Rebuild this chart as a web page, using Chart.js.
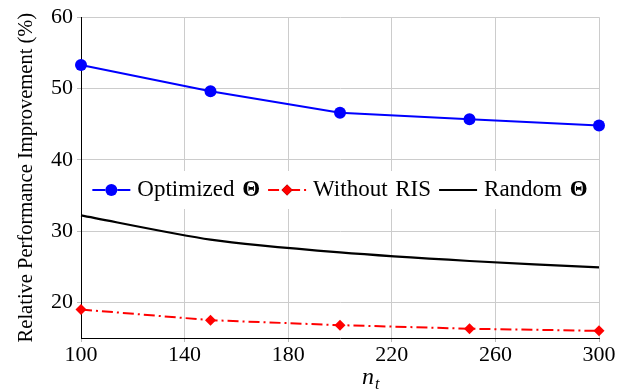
<!DOCTYPE html>
<html>
<head>
<meta charset="utf-8">
<script src="https://cdn.jsdelivr.net/npm/chart.js@4.4.1/dist/chart.umd.min.js"></script>
<style>
  html, body { margin: 0; padding: 0; background: #fff; }
  #wrap { width: 629px; height: 392px; }
</style>
</head>
<body>
<div id="wrap"><canvas id="c" width="629" height="392"></canvas></div>
<script>
// n_t values and series
const ntValues = [100, 150, 200, 250, 300];
const optimized = [53.3, 49.6, 46.6, 45.7, 44.8];
const withoutRis = [19.0, 17.5, 16.8, 16.3, 16.0];
const randomTheta = [32.2, 28.8, 27.0, 25.8, 24.9];

const seriesNames = ["Optimized Θ", "Without RIS", "Random Θ"];
const xTicks = [100, 140, 180, 220, 260, 300];
const yTicks = [20, 30, 40, 50, 60];

const serif = "'Liberation Serif', 'DejaVu Serif', serif";

const toXY = (vals) => vals.map((v, i) => ({ x: ntValues[i], y: v }));

// legend drawn inside the plot, on a white strip, like the pgfplots figure
const innerLegend = {
  id: "innerLegend",
  afterDatasetsDraw(chart) {
    const { ctx, chartArea } = chart;
    const cy = 190;
    ctx.save();
    ctx.fillStyle = "#fff";
    ctx.fillRect(chartArea.left + 1, 171, chartArea.right - chartArea.left - 2, 38);

    const sample = 38, gapText = 7, gapItem = 8;
    const normal = "23px " + serif, bold = "bold 23px " + serif;
    ctx.wordSpacing = "2px";
    const parts = seriesNames.map((name) => {
      const segs = name.split("Θ");
      const out = [];
      segs.forEach((s, i) => {
        if (s) out.push({ t: s, f: normal });
        if (i < segs.length - 1) out.push({ t: "Θ", f: bold });
      });
      return out;
    });
    const widths = parts.map((p) =>
      p.reduce((w, s) => { ctx.font = s.f; return w + ctx.measureText(s.t).width; }, 0));
    let total = 0;
    widths.forEach((w, i) => { total += sample + gapText + w + (i ? gapItem : 0); });
    let x = (chartArea.left + chartArea.right) / 2 - total / 2;

    chart.data.datasets.forEach((ds, i) => {
      ctx.strokeStyle = ds.borderColor;
      ctx.lineWidth = ds.borderWidth;
      ctx.setLineDash(ds.borderDash || []);
      ctx.beginPath();
      ctx.moveTo(x, cy);
      ctx.lineTo(x + sample, cy);
      ctx.stroke();
      ctx.setLineDash([]);
      if (ds.pointRadius > 0) {
        Chart.helpers.drawPoint(ctx, {
          pointStyle: ds.pointStyle, radius: ds.pointRadius, rotation: 0, borderWidth: 0
        }, x + sample / 2, cy);
        ctx.fillStyle = ds.backgroundColor;
        ctx.fill();
      }
      x += sample + gapText;
      ctx.fillStyle = "#000";
      ctx.textBaseline = "middle";
      parts[i].forEach((s) => {
        ctx.font = s.f;
        ctx.fillText(s.t, x, cy);
        x += ctx.measureText(s.t).width;
      });
      x += gapItem;
    });
    ctx.wordSpacing = "0px";

    // x axis title n_t
    ctx.fillStyle = "#000";
    ctx.textBaseline = "alphabetic";
    ctx.font = "italic 24px " + serif;
    const nx = (chartArea.left + chartArea.right) / 2 + 22;
    ctx.fillText("n", nx, 384);
    const nw = ctx.measureText("n").width;
    ctx.font = "italic 16px " + serif;
    ctx.fillText("t", nx + nw + 1, 389);
    ctx.restore();
  }
};

new Chart(document.getElementById("c"), {
  type: "line",
  data: {
    datasets: [
      {
        label: seriesNames[0],
        data: toXY(optimized),
        borderColor: "#0000ff",
        backgroundColor: "#0000ff",
        borderWidth: 2,
        pointStyle: "circle",
        pointRadius: 6,
        pointBorderWidth: 0,
        tension: 0,
        clip: false
      },
      {
        label: seriesNames[1],
        data: toXY(withoutRis),
        borderColor: "#ff0000",
        backgroundColor: "#ff0000",
        borderWidth: 2,
        borderDash: [11, 4, 2, 4],
        pointStyle: "rectRot",
        pointRadius: 5.5,
        pointBorderWidth: 0,
        tension: 0,
        clip: false
      },
      {
        label: seriesNames[2],
        data: toXY(randomTheta),
        borderColor: "#000000",
        backgroundColor: "#000000",
        borderWidth: 2.2,
        pointRadius: 0,
        tension: 0.25,
        clip: false
      }
    ]
  },
  options: {
    responsive: false,
    animation: false,
    events: [],
    layout: { padding: { top: 15, right: 30, left: 0, bottom: 0 } },
    plugins: {
      legend: { display: false },
      tooltip: { enabled: false }
    },
    scales: {
      x: {
        type: "linear",
        min: 100,
        max: 300,
        afterBuildTicks: (s) => { s.ticks = xTicks.map((v) => ({ value: v })); },
        afterFit: (s) => { s.height = 54; },
        grid: { color: "#cccccc", lineWidth: 1, tickLength: 4, tickColor: "#bbbbbb" },
        border: { color: "#000", width: 1 },
        ticks: { color: "#000", font: { family: serif, size: 22 }, padding: 0, maxRotation: 0 }
      },
      y: {
        min: 15,
        max: 60,
        afterBuildTicks: (s) => { s.ticks = yTicks.map((v) => ({ value: v })); },
        afterFit: (s) => { s.width = 81; },
        grid: { color: "#cccccc", lineWidth: 1, tickLength: 4, tickColor: "#bbbbbb" },
        border: { color: "#000", width: 1 },
        ticks: { color: "#000", font: { family: serif, size: 22 }, padding: 4 },
        title: {
          display: true,
          text: "Relative Performance Improvement (%)",
          color: "#000",
          font: { family: serif, size: 20.5 },
          padding: { top: 14, bottom: 0 }
        }
      }
    }
  },
  plugins: [innerLegend]
});
</script>
</body>
</html>
